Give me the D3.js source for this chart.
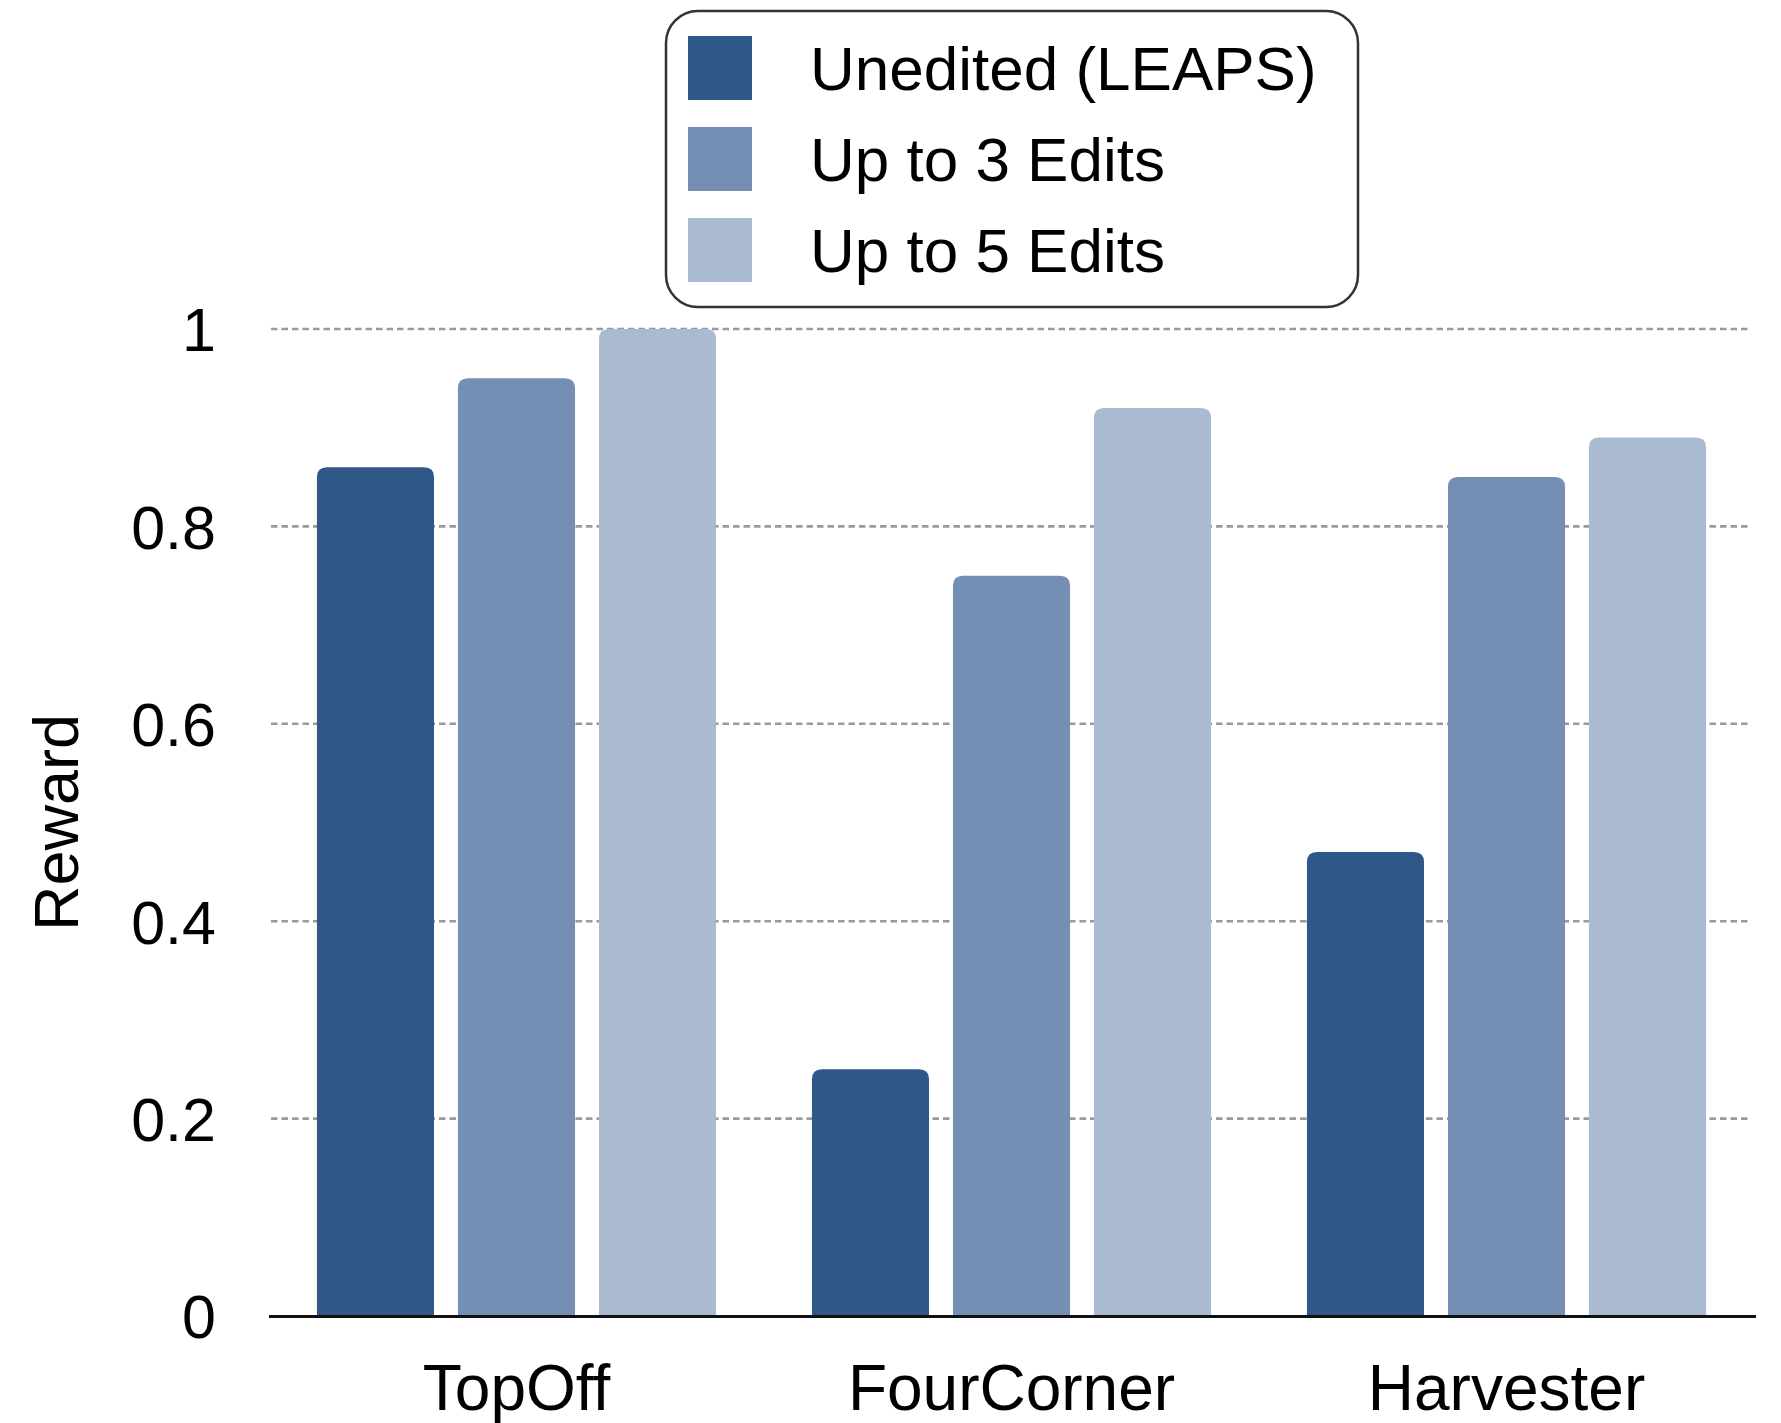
<!DOCTYPE html>
<html>
<head>
<meta charset="utf-8">
<script src="https://cdn.jsdelivr.net/npm/d3@7"></script>
<style>
  html, body { margin: 0; padding: 0; background: #fff; }
  svg { display: block; font-family: "Liberation Sans", Arial, Helvetica, sans-serif; }
</style>
</head>
<body>
<svg id="chart" width="1781" height="1423"></svg>
<script>
const categories = ["TopOff", "FourCorner", "Harvester"];
const seriesNames = ["Unedited (LEAPS)", "Up to 3 Edits", "Up to 5 Edits"];
const seriesColors = ["#2f5889", "#758eb3", "#aabad0"];
const unedited = [0.86, 0.25, 0.47];
const upTo3 = [0.95, 0.75, 0.85];
const upTo5 = [1.0, 0.92, 0.89];
const seriesValues = [unedited, upTo3, upTo5];
const yTicks = [0, 0.2, 0.4, 0.6, 0.8, 1];
const yTickLabels = ["0", "0.2", "0.4", "0.6", "0.8", "1"];
const yTitle = "Reward";

const svg = d3.select("#chart");

const x0 = d3.scaleBand().domain(categories).range([269, 1754]).padding(0);
const x1 = d3.scaleBand().domain(d3.range(seriesNames.length))
  .range([0, x0.bandwidth()]).paddingInner(0.17).paddingOuter(0.34);
const y = d3.scaleLinear().domain([0, 1]).range([1316, 329]);

// gridlines
svg.append("g").selectAll("line")
  .data(yTicks.filter(d => d > 0))
  .join("line")
  .attr("x1", 271).attr("x2", 1748)
  .attr("y1", d => y(d)).attr("y2", d => y(d))
  .attr("stroke", "#9a9a9a").attr("stroke-width", 2.6)
  .attr("stroke-dasharray", "6.5,4");

// bars with rounded top corners
function topRounded(x, yTop, w, yBot, r) {
  r = Math.min(r, w / 2, (yBot - yTop));
  return `M${x},${yBot}V${yTop + r}Q${x},${yTop} ${x + r},${yTop}H${x + w - r}Q${x + w},${yTop} ${x + w},${yTop + r}V${yBot}Z`;
}

const barData = [];
categories.forEach((c, ci) => {
  seriesValues.forEach((vals, si) => {
    barData.push({ cat: c, s: si, v: vals[ci] });
  });
});

svg.append("g").selectAll("path")
  .data(barData)
  .join("path")
  .attr("d", d => topRounded(x0(d.cat) + x1(d.s), y(d.v), x1.bandwidth(), y(0), 10))
  .attr("fill", d => seriesColors[d.s]);

// baseline
svg.append("line")
  .attr("x1", 269).attr("x2", 1756)
  .attr("y1", y(0) + 0.5).attr("y2", y(0) + 0.5)
  .attr("stroke", "#111").attr("stroke-width", 3);

// y axis labels
const yAxis = d3.axisLeft(y).tickValues(yTicks)
  .tickFormat((d, i) => yTickLabels[i]).tickSize(0).tickPadding(53);
const yg = svg.append("g").attr("transform", "translate(269,0)").call(yAxis);
yg.select(".domain").remove();
yg.selectAll("text").attr("font-size", 61).attr("fill", "#000")
  .attr("font-family", "'Liberation Sans', Arial, Helvetica, sans-serif")
  .attr("dy", "0.36em");

// x axis labels
const xAxis = d3.axisBottom(x0).tickSize(0).tickPadding(0);
const xg = svg.append("g").attr("transform", `translate(0,${y(0)})`).call(xAxis);
xg.select(".domain").remove();
xg.selectAll("text").attr("font-size", 64).attr("fill", "#000")
  .attr("font-family", "'Liberation Sans', Arial, Helvetica, sans-serif")
  .attr("y", 94).attr("dy", 0);

// y title
svg.append("text")
  .attr("transform", `translate(78,${(y(0) + y(1)) / 2}) rotate(-90)`)
  .attr("text-anchor", "middle")
  .attr("font-size", 63).attr("fill", "#000")
  .text(yTitle);

// legend
const lg = svg.append("g");
lg.append("rect")
  .attr("x", 666).attr("y", 11).attr("width", 692).attr("height", 296)
  .attr("rx", 32).attr("ry", 32)
  .attr("fill", "#fff").attr("stroke", "#333").attr("stroke-width", 2.5);
const items = lg.selectAll("g.item").data(seriesNames).join("g")
  .attr("class", "item")
  .attr("transform", (d, i) => `translate(688,${36 + i * 91})`);
items.append("rect").attr("width", 64).attr("height", 64)
  .attr("fill", (d, i) => seriesColors[i]);
items.append("text").attr("x", 122).attr("y", 32).attr("dy", "0.36em")
  .attr("font-size", 62).attr("fill", "#000").text(d => d);
</script>
</body>
</html>
